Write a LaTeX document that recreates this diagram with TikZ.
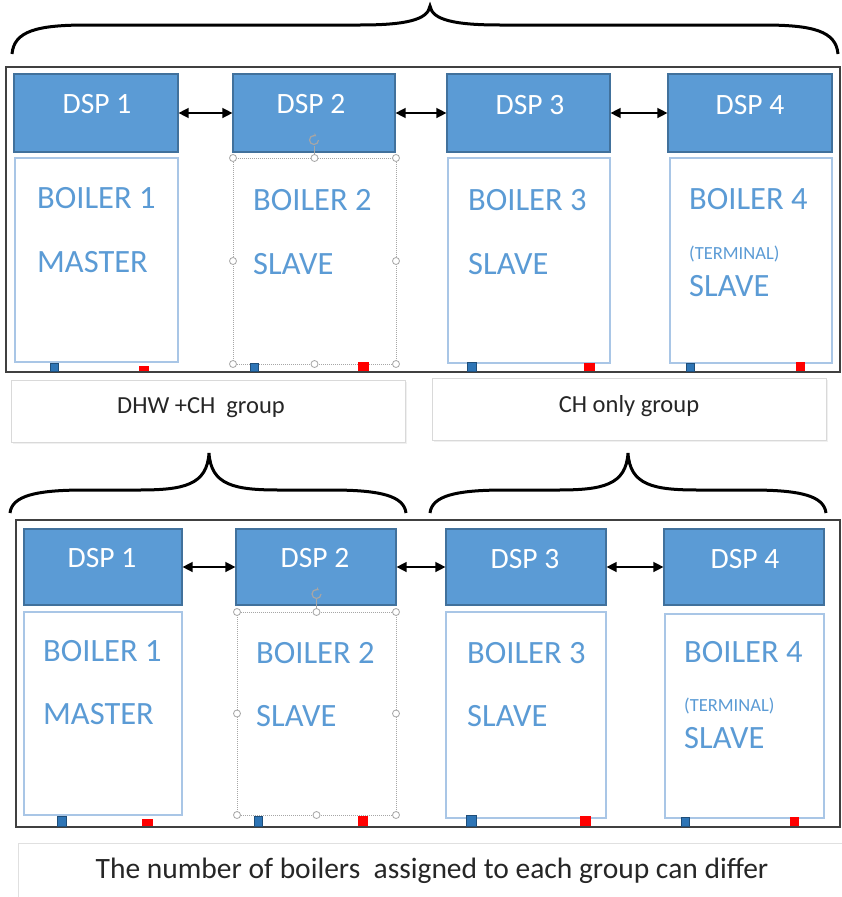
\documentclass[tikz,border=0pt]{standalone}
\usepackage{fontspec}
\setmainfont{Carlito}
\usetikzlibrary{arrows.meta}

\definecolor{dspfill}{HTML}{5B9BD5}
\definecolor{dspline}{HTML}{41719C}
\definecolor{boilertext}{HTML}{5B9BD5}
\definecolor{boilerline}{HTML}{A9C6E6}
\definecolor{portblue}{HTML}{2E75B6}
\definecolor{portblueline}{HTML}{1F4E79}
\definecolor{portred}{HTML}{FF0000}
\definecolor{handlegray}{HTML}{A6A6A6}

% curly brace: left x, right x, end y, straight-part y, tip x, tip y
\newcommand\groupbrace[6]{%
  \draw[brace] (#1,#3) .. controls (#1+2,#4+6) and (#1+25,#4) .. (#1+75,#4)
    -- (#5-70,#4) .. controls (#5-25,#4) and (#5-2,#4-5) .. (#5,#6)
    .. controls (#5+2,#4-5) and (#5+25,#4) .. (#5+70,#4)
    -- (#2-75,#4) .. controls (#2-25,#4) and (#2-2,#4+6) .. (#2,#3);}

% selection handles round a box: left, top, right, bottom, middle x, middle y
\newcommand\selhandles[6]{%
  \foreach \hx in {#1,#5,#3}{
    \foreach \hy in {#2,#4}{\draw[selhandle] (\hx,\hy) circle (3.5);}}
  \foreach \hx in {#1,#3}{\draw[selhandle] (\hx,#6) circle (3.5);}}

\begin{document}
\begin{tikzpicture}[x=1pt,y=-1pt,
  dspbox/.style={draw=dspline, line width=1.2pt, fill=dspfill, inner sep=0pt, minimum height=78pt},
  dsplabel/.style={text=white, font=\fontsize{29.5}{31}\selectfont, inner sep=0pt},
  boilerbox/.style={draw=boilerline, line width=1.3pt, fill=white, inner sep=0pt},
  selbox/.style={draw=handlegray, densely dotted, line width=1pt, fill=white, inner sep=0pt},
  selhandle/.style={draw=handlegray, fill=white, line width=0.8pt},
  boilerlabel/.style={text=boilertext, font=\fontsize{32.5}{35}\selectfont, anchor=base west, inner sep=0pt},
  termlabel/.style={text=boilertext, font=\fontsize{18.5}{20}\selectfont, anchor=base west, inner sep=0pt},
  link/.style={{Triangle[length=10pt,width=10pt]}-{Triangle[length=10pt,width=10pt]}, line width=1.4pt},
  frame/.style={draw=black!75, line width=2pt},
  brace/.style={draw=black, line width=3pt},
  groupbox/.style={draw=black!15, line width=1pt, fill=white, inner sep=0pt},
  grouplabel/.style={text=black!85, font=\fontsize{24.5}{26}\selectfont, inner sep=0pt},
  notelabel/.style={text=black!85, font=\fontsize{29.5}{31}\selectfont, inner sep=0pt},
  portb/.style={fill=portblue, draw=portblueline, line width=0.6pt},
  portr/.style={fill=portred}]

\useasboundingbox (0,0) rectangle (842,897);
\fill[white] (0,0) rectangle (842,897);

% ---------- upper arrangement: one group ----------
\groupbrace{12}{838}{54}{25}{430}{6}
\draw[frame] (6,67) rectangle (840,372);

\node[dspbox, minimum width=164pt] (ua) at (96,113) {};
\node[dspbox, minimum width=162pt] (ub) at (314,113) {};
\node[dspbox, minimum width=163pt] (uc) at (528.5,113) {};
\node[dspbox, minimum width=164pt] (ud) at (750,113) {};
\node[dsplabel] (uat) at (97,104) {DSP 1};
\node[dsplabel] (ubt) at (311,104) {DSP 2};
\node[dsplabel] (uct) at (530,105) {DSP 3};
\node[dsplabel] (udt) at (750,105) {DSP 4};
\draw[link] (ua.east) -- (ub.west);
\draw[link] (ub.east) -- (uc.west);
\draw[link] (uc.east) -- (ud.west);

\node[boilerbox, minimum width=163pt, minimum height=204pt] (ua1) at (96.5,260) {};
\node[selbox, minimum width=163pt, minimum height=206pt] (ub1) at (314.5,261) {};
\node[boilerbox, minimum width=162pt, minimum height=205pt] (uc1) at (529,260.5) {};
\node[boilerbox, minimum width=162pt, minimum height=205pt] (ud1) at (751,260.5) {};
\selhandles{233}{158}{396}{364}{314.5}{261}
\draw[handlegray, line width=0.8pt] (314,146) -- (314,154.5);
\draw[handlegray, line width=1.2pt, -{Stealth[length=3pt,width=4pt]}] (318.5,140) arc (0:300:4.5);

\node[boilerlabel] (ua2) at (37,208) {BOILER 1};
\node[boilerlabel] (ua3) at (37,272) {MASTER};
\node[boilerlabel] (ub2) at (253,210) {BOILER 2};
\node[boilerlabel] (ub3) at (253,274) {SLAVE};
\node[boilerlabel] (uc2) at (468,210) {BOILER 3};
\node[boilerlabel] (uc3) at (468,274) {SLAVE};
\node[boilerlabel] (ud2) at (689,209) {BOILER 4};
\node[termlabel] (ud3) at (689,259) {(TERMINAL)};
\node[boilerlabel] (ud4) at (689,296) {SLAVE};

% connection ports
\draw[portb] (50,363) rectangle (58,371);
\fill[portr] (139,366) rectangle (149,371);
\draw[portb] (250,363) rectangle (258,371);
\fill[portr] (358,362) rectangle (369,371);
\draw[portb] (467,362) rectangle (476,371);
\fill[portr] (584,363) rectangle (595,371);
\draw[portb] (686,363) rectangle (694,371);
\fill[portr] (796,362) rectangle (805,371);

% group captions
\fill[black!6] (13,382) rectangle (407,444);
\fill[black!6] (434,380) rectangle (828,442);
\node[groupbox, minimum width=394pt, minimum height=62pt] (g1) at (208,411) {};
\node[groupbox, minimum width=394pt, minimum height=62pt] (g2) at (629,409) {};
\node[grouplabel] (g1t) at (201,408) {DHW +CH\ \ group};
\node[grouplabel] (g2t) at (629,406) {CH only group};

% ---------- lower arrangement: two groups ----------
\groupbrace{10}{406}{513}{490}{209}{453}
\groupbrace{430}{826}{513}{490}{628}{453}
\draw[frame] (16,520) rectangle (840,827);

\node[dspbox, minimum width=158pt, minimum height=76pt] (la) at (103,567) {};
\node[dspbox, minimum width=160pt, minimum height=76pt] (lb) at (316,567) {};
\node[dspbox, minimum width=160pt, minimum height=76pt] (lc) at (526,567) {};
\node[dspbox, minimum width=160pt, minimum height=76pt] (ld) at (744,567) {};
\node[dsplabel] (lat) at (102,558) {DSP 1};
\node[dsplabel] (lbt) at (315,558) {DSP 2};
\node[dsplabel] (lct) at (525,559) {DSP 3};
\node[dsplabel] (ldt) at (745,559) {DSP 4};
\draw[link] (la.east) -- (lb.west);
\draw[link] (lb.east) -- (lc.west);
\draw[link] (lc.east) -- (ld.west);

\node[boilerbox, minimum width=158pt, minimum height=203pt] (la1) at (103,713.5) {};
\node[selbox, minimum width=159pt, minimum height=203pt] (lb1) at (316.5,713.5) {};
\node[boilerbox, minimum width=160pt, minimum height=206pt] (lc1) at (526,715) {};
\node[boilerbox, minimum width=159pt, minimum height=204pt] (ld1) at (744.5,716) {};
\selhandles{237}{612}{396}{815}{316.5}{713.5}
\draw[handlegray, line width=0.8pt] (316.5,599) -- (316.5,608.5);
\draw[handlegray, line width=1.2pt, -{Stealth[length=3pt,width=4pt]}] (321,594) arc (0:300:4.5);

\node[boilerlabel] (la2) at (43,661) {BOILER 1};
\node[boilerlabel] (la3) at (43,724) {MASTER};
\node[boilerlabel] (lb2) at (256,663) {BOILER 2};
\node[boilerlabel] (lb3) at (256,726) {SLAVE};
\node[boilerlabel] (lc2) at (467,663) {BOILER 3};
\node[boilerlabel] (lc3) at (467,726) {SLAVE};
\node[boilerlabel] (ld2) at (684,662) {BOILER 4};
\node[termlabel] (ld3) at (684,711) {(TERMINAL)};
\node[boilerlabel] (ld4) at (684,748) {SLAVE};

\draw[portb] (57,816) rectangle (66,826);
\fill[portr] (142,819) rectangle (153,826);
\draw[portb] (254,816) rectangle (262,826);
\fill[portr] (358,816) rectangle (368,826);
\draw[portb] (466,815) rectangle (476,826);
\fill[portr] (580,816) rectangle (591,826);
\draw[portb] (681,817) rectangle (689,826);
\fill[portr] (790,817) rectangle (799,826);

% closing note
\draw[black!12, line width=1pt] (18,900) -- (18,843) -- (845,843);
\node[notelabel] (note) at (432,871) {The number of boilers\ \ assigned to each group can differ};

\end{tikzpicture}
\end{document}
